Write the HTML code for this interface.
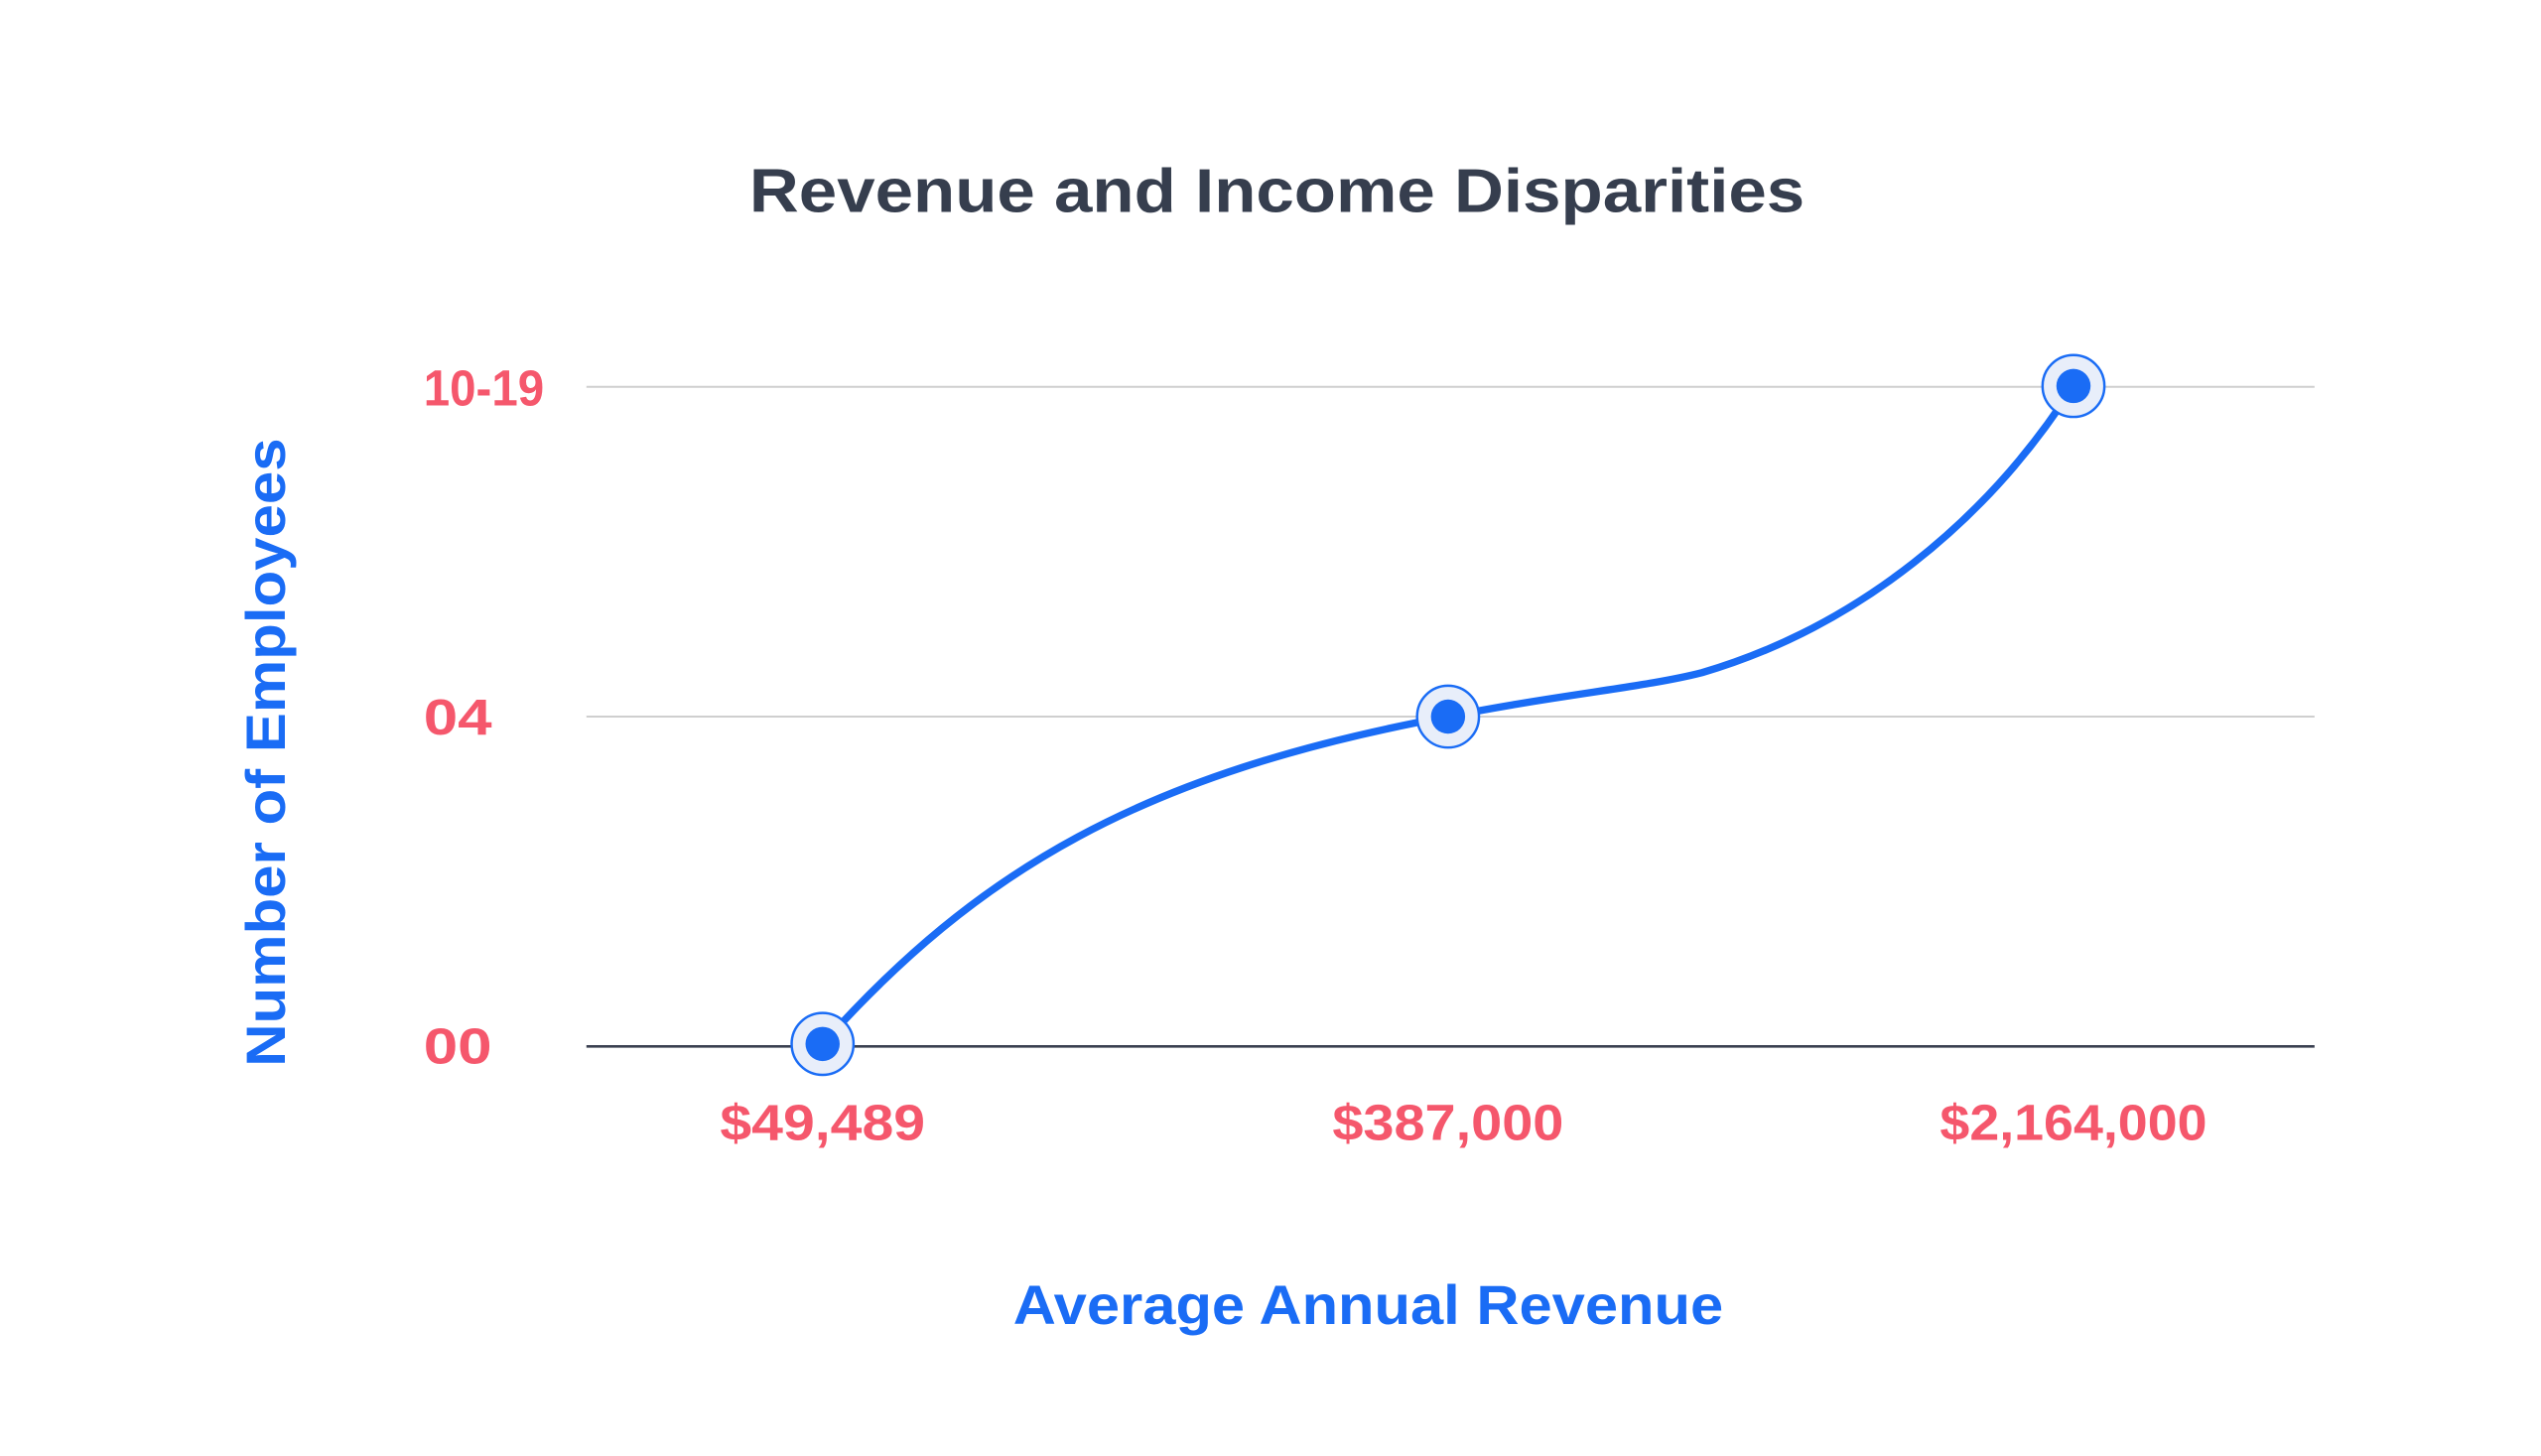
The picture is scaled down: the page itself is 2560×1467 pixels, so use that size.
<!DOCTYPE html>
<html><head><meta charset="utf-8"><style>
html,body{margin:0;padding:0;background:#fff;}
svg{display:block;}
text{font-family:"Liberation Sans",sans-serif;font-weight:bold;}
</style></head><body>
<svg width="2560" height="1467" viewBox="0 0 1560 894" xmlns="http://www.w3.org/2000/svg">
<rect width="1560" height="894" fill="#fff"/>
<text x="784" y="130" text-anchor="middle" font-size="38" fill="#363e4e" textLength="648" lengthAdjust="spacingAndGlyphs">Revenue and Income Disparities</text>
<line x1="360" y1="237.5" x2="1421" y2="237.5" stroke="#cfcfcf" stroke-width="1.2"/>
<line x1="360" y1="440" x2="1421" y2="440" stroke="#cfcfcf" stroke-width="1.2"/>
<line x1="360" y1="642.5" x2="1421" y2="642.5" stroke="#3a4050" stroke-width="1.6"/>
<g font-size="31" fill="#f5576c">
<text x="260" y="249" textLength="74" lengthAdjust="spacingAndGlyphs">10-19</text>
<text x="260" y="451" textLength="42" lengthAdjust="spacingAndGlyphs">04</text>
<text x="260" y="653" textLength="42" lengthAdjust="spacingAndGlyphs">00</text>
<text x="505" y="700" text-anchor="middle" textLength="126" lengthAdjust="spacingAndGlyphs">$49,489</text>
<text x="889" y="700" text-anchor="middle" textLength="142" lengthAdjust="spacingAndGlyphs">$387,000</text>
<text x="1273" y="700" text-anchor="middle" textLength="164" lengthAdjust="spacingAndGlyphs">$2,164,000</text>
</g>
<text x="840" y="813" text-anchor="middle" font-size="34" fill="#1a6cf5" textLength="436" lengthAdjust="spacingAndGlyphs">Average Annual Revenue</text>
<text transform="translate(175,462) rotate(-90)" text-anchor="middle" font-size="34" fill="#1a6cf5" textLength="386" lengthAdjust="spacingAndGlyphs">Number of Employees</text>
<path d="M505,641 C600,535 700,475 889,440 C960,426 1010,422 1045,413 C1140,385 1220,320 1273,237" fill="none" stroke="#1a6cf5" stroke-width="4.5"/>
<g stroke="#1a6cf5" stroke-width="1.5">
<circle cx="505" cy="641" r="19" fill="#e8eefa"/>
<circle cx="889" cy="440" r="19" fill="#e8eefa"/>
<circle cx="1273" cy="237" r="19" fill="#e8eefa"/>
</g>
<g fill="#1a6cf5">
<circle cx="505" cy="641" r="10.5"/>
<circle cx="889" cy="440" r="10.5"/>
<circle cx="1273" cy="237" r="10.5"/>
</g>
</svg>
</body></html>
